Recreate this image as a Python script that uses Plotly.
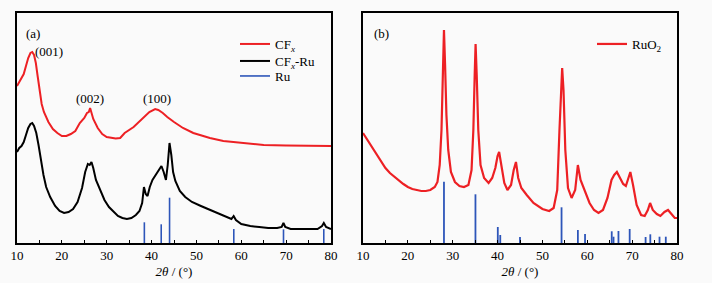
import plotly.graph_objects as go

# ---------------- data (panel a) ----------------
cfx_2theta = [10, 10.5, 11, 11.5, 12, 12.5, 13, 13.4, 13.8, 14.2, 14.6, 15, 15.5, 16, 17, 18, 19, 20, 21, 22,
              23, 24, 25, 25.6, 26.0, 26.3, 26.6, 27, 28, 29, 30, 31, 32, 33, 34, 36, 38, 39.5, 40.8, 41.5,
              42.5, 43.5, 45, 47, 49.3, 50, 53, 56, 60, 65, 70, 75, 80]
cfx_int = [157, 161, 165, 169, 177, 185, 190, 191, 188, 180, 167, 153, 139, 131, 121, 114, 110, 107, 107, 109,
           112, 120, 125, 130, 131, 135, 130, 124, 115, 109, 106, 105, 104.5, 105, 110, 116, 125, 131, 134, 133,
           130, 126, 121, 115, 110, 109, 105, 102, 100, 98, 97.5, 97, 97]

cfxru_2theta = [10, 10.5, 11, 11.5, 12, 12.5, 13, 13.4, 13.8, 14.3, 14.8, 15.3, 15.9, 16.5, 17.4, 18.5, 19.5,
                20.5, 21.5, 22.5, 23.5, 24.5, 25.2, 25.8, 26.2, 26.6, 27, 27.6, 28.5, 29.5, 30.5, 31.5, 32.5,
                33.5, 34.5, 35.5, 36.5, 37.3, 37.9, 38.3, 38.7, 39.1, 39.6, 40.2, 40.8, 41.5, 42.2, 42.7, 43.2,
                43.6, 44.0, 44.4, 44.8, 45.3, 46.3, 47.5, 49, 51, 53, 55, 57, 57.8, 58.3, 58.8, 60, 62, 64, 66,
                68, 69, 69.4, 69.8, 71, 73, 75, 77, 78, 78.4, 78.9, 79.5, 80]
cfxru_int = [91, 95, 97, 101, 108, 115, 119, 120, 117, 110, 98, 83, 68, 56, 46, 37, 32,
             30, 31, 34, 41, 55, 71, 79, 78, 81, 75, 63, 53, 43, 36, 31, 27,
             25, 24, 25, 28, 32, 40, 56, 49, 47, 56, 63, 67, 71, 77, 71, 63,
             78, 100, 88, 71, 62, 52, 46, 41, 37, 33, 29, 25, 24, 27, 23, 19, 17, 16, 15,
             15, 16, 20, 16, 14, 14, 14, 14, 17, 20, 16, 15, 14]

ru_pos = [38.39, 42.15, 44.01, 58.33, 69.41, 78.39]
ru_int = [20.7, 18.7, 45.3, 14, 13.7, 14]

# ---------------- data (panel b) ----------------
ruo2_2theta = [10, 11, 12, 13, 14, 15, 16, 17, 18, 19, 20, 21, 22, 23, 24, 25, 26, 26.6, 27.1, 27.5, 27.8,
               28.05, 28.3, 28.6, 29.0, 29.6, 30.5, 31.5, 32.5, 33.5, 34.2, 34.6, 34.9, 35.1, 35.35, 35.7,
               36.2, 37, 38, 38.8, 39.5, 40.0, 40.35, 40.8, 41.5, 42.2, 43.0, 43.6, 44.1, 44.6, 45.3, 46.5,
               48, 50, 51.5, 52.5, 53.3, 53.8, 54.2, 54.4, 54.7, 55.1, 55.7, 56.5, 57.3, 57.9, 58.5, 59.2,
               59.7, 60.5, 61.5, 62.5, 63.5, 64.5, 65.4, 66.0, 66.6, 67.3, 68.0, 68.6, 69.2, 69.6, 70.2, 71.0,
               72.0, 72.8, 73.5, 74.0, 74.6, 75.5, 76.3, 77.2, 78.0, 78.8, 79.5, 80]
ruo2_int = [110, 103, 95, 88, 81, 75, 70, 66, 62, 59, 56, 54, 53, 52, 52, 53, 56, 61, 78, 113, 168,
            213, 178, 128, 93, 71, 61, 57, 56, 58, 73, 113, 168, 199, 168, 113,
            78, 65, 60, 65, 75, 87, 91, 78, 60, 53, 58, 73, 81, 65, 55, 48,
            40, 34, 32, 35, 53, 113, 168, 175, 153, 93, 55, 45, 53, 78, 63, 55,
            51, 40, 33, 30, 33, 45, 63, 68, 71, 65, 59, 57, 67, 71, 58, 38,
            28, 27, 33, 40, 33, 29, 27, 31, 33, 29, 25, 25]

ruo2_ref_pos = [28.05, 35.07, 40.05, 40.6, 45.0, 54.26, 57.9, 59.5, 65.45, 65.85, 66.95, 69.45, 73.0, 74.05,
                76.1, 77.5]
ruo2_ref_int = [61.3, 48.7, 16, 8, 6, 35.7, 13, 9, 11.7, 6.3, 12, 14, 6, 8.7, 6.3, 6.3]

x_ticks = [10, 20, 30, 40, 50, 60, 70, 80]
x_title = "<i>2θ</i> / (°)"

RED = "rgb(237,32,36)"
BLUE = "rgb(45,85,185)"
FONT = "'Times New Roman', 'Liberation Serif', serif"


def sticks(pos, vals):
    xs, ys = [], []
    for p, v in zip(pos, vals):
        xs += [p, p, None]
        ys += [0, v, None]
    return xs, ys


fig = go.Figure()

fig.add_trace(go.Scatter(x=cfx_2theta, y=cfx_int, mode="lines", name="CF<sub><i>x</i></sub>",
                         line=dict(color=RED, width=2), xaxis="x", yaxis="y", legend="legend"))
fig.add_trace(go.Scatter(x=cfxru_2theta, y=cfxru_int, mode="lines", name="CF<sub><i>x</i></sub>-Ru",
                         line=dict(color="black", width=2), xaxis="x", yaxis="y", legend="legend3"))
rx, ry = sticks(ru_pos, ru_int)
fig.add_trace(go.Scatter(x=rx, y=ry, mode="lines", name="Ru",
                         line=dict(color=BLUE, width=1.6), xaxis="x", yaxis="y", legend="legend4"))

bx, by = sticks(ruo2_ref_pos, ruo2_ref_int)
fig.add_trace(go.Scatter(x=bx, y=by, mode="lines", name="ref", showlegend=False,
                         line=dict(color=BLUE, width=1.8), xaxis="x2", yaxis="y2"))
fig.add_trace(go.Scatter(x=ruo2_2theta, y=ruo2_int, mode="lines", name="RuO<sub>2</sub>",
                         line=dict(color=RED, width=2.2), xaxis="x2", yaxis="y2", legend="legend2"))

W, H = 712, 283
xa = dict(range=[10, 80], tickvals=x_ticks, ticks="inside", ticklen=3, tickwidth=1.2, tickcolor="black",
          minor=dict(dtick=5, tick0=10, ticks="inside", ticklen=3, tickwidth=1.2, tickcolor="black"),
          showline=True, linecolor="black", linewidth=1.6, mirror=True, showgrid=False, zeroline=False,
          automargin=False,
          tickfont=dict(family=FONT, size=13, color="black"),
          title=dict(text=x_title, font=dict(family=FONT, size=13, color="black"), standoff=4))
ya = dict(range=[0, 230], showticklabels=False, ticks="", showline=True, linecolor="black", linewidth=1.6,
          mirror=True, showgrid=False, zeroline=False, automargin=False, domain=[1 - 243 / H, 1 - 13 / H])


def leg(xpx, ypx):
    return dict(x=xpx / W, y=1 - ypx / H, xanchor="left", yanchor="middle", bgcolor="rgba(0,0,0,0)",
                font=dict(family=FONT, size=13, color="black"), itemwidth=30)


fig.update_layout(
    width=W, height=H,
    margin=dict(l=0, r=0, t=0, b=0, autoexpand=False),
    paper_bgcolor="#fafafa", plot_bgcolor="#fafafa",
    font=dict(family=FONT, size=13, color="black"),
    xaxis=dict(xa, domain=[17 / W, 331 / W], anchor="y"),
    yaxis=dict(ya, anchor="x"),
    xaxis2=dict(xa, domain=[363 / W, 677 / W], anchor="y2"),
    yaxis2=dict(ya, anchor="x2"),
    legend=leg(235, 44),
    legend3=leg(235, 61),
    legend4=leg(235, 76),
    legend2=leg(592, 44),
    showlegend=True,
)

ann = [
    dict(text="(a)", x=13.6, y=210, xref="x", yref="y"),
    dict(text="(001)", x=17.1, y=192, xref="x", yref="y"),
    dict(text="(002)", x=26.3, y=145, xref="x", yref="y"),
    dict(text="(100)", x=41.1, y=145, xref="x", yref="y"),
    dict(text="(b)", x=14.2, y=210, xref="x2", yref="y2"),
]
for a in ann:
    fig.add_annotation(**a, showarrow=False, font=dict(family=FONT, size=13, color="black"))

fig.write_html("out.html", config={"displayModeBar": False})

# remove the browser's default page margin so the figure sits at the window origin
with open("out.html", encoding="utf-8") as f:
    html = f.read()
html = html.replace("<head>", "<head><style>html,body{margin:0;padding:0;background:#fafafa;}</style>", 1)
with open("out.html", "w", encoding="utf-8") as f:
    f.write(html)
